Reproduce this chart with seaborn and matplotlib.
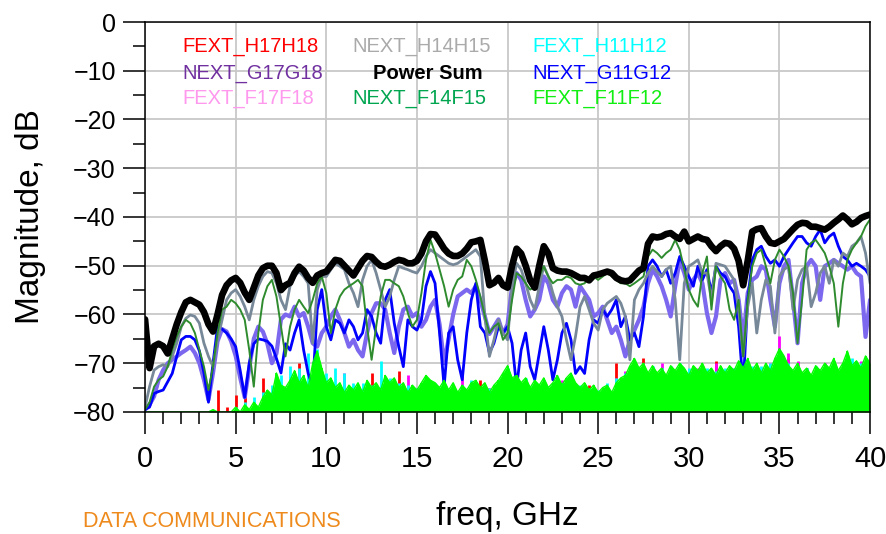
import numpy as np
import pandas as pd
import matplotlib
matplotlib.use("Agg")
import matplotlib.pyplot as plt
import seaborn as sns
from matplotlib.ticker import MultipleLocator

# frequency axis of the crosstalk traces (GHz), read every 0.25 GHz
freq = np.linspace(0, 40, 161)
# the far-end noise traces were read on a coarser 0.5 GHz step
freq_fext = np.linspace(0, 40, 81)

# Power Sum (dB)
power_sum = [
    -61, -71, -66.5, -66, -66.5, -68, -65, -62, -59.5, -57.5, -57, -57.5, -58, -59.5, -62, -63.5,
    -60, -56, -54, -53, -52.5, -53.5, -55.5, -57, -54.5, -52, -50.5, -50, -50, -51.5, -55, -54,
    -53.5, -51.5, -50.2, -51, -52.5, -53.5, -52, -51.5, -51.2, -50, -48.8, -49, -50, -51, -52, -50.5,
    -49, -48, -48.2, -49.2, -50, -50.2, -49.8, -49.2, -48.8, -49, -49.5, -49.5, -49, -47.5, -45, -43.5,
    -43.6, -45, -46.5, -47.5, -48, -48, -47.5, -46.5, -45.2, -45, -44.7, -49, -54, -53.5, -52.5, -54,
    -54.5, -50, -46.5, -47.5, -50, -53, -54.5, -50, -46, -47.5, -50.5, -51, -51.2, -51.2, -51.5, -52,
    -52.5, -52.5, -53, -52, -51.8, -51.5, -51.2, -51.5, -52.5, -53, -53.2, -53, -52, -51, -50.5, -45.5,
    -44, -44.2, -44, -43.5, -43.3, -44, -44.5, -43, -45, -44.5, -44, -44.5, -44.7, -46, -47, -46,
    -45.3, -45.5, -46.5, -49, -54, -49, -43, -42.5, -42.3, -44, -45.3, -45.5, -45, -44.5, -43.5, -42.5,
    -41.6, -41.2, -41.3, -42, -42, -42.3, -42.6, -42, -41.2, -40.5, -39.7, -40.5, -41.5, -41, -40.2, -39.8,
    -39.5,
]

# NEXT_H14H15 (dB)
next_h14h15 = [
    -79, -74.8, -71.4, -70.7, -70.3, -70.7, -68.6, -65.9, -62.5, -60.8, -60.1, -60.4, -61.8, -65.9, -68.6, -70.7,
    -65.2, -61.1, -57.0, -55.6, -54.9, -56.3, -58.4, -61.1, -57.0, -54.2, -52.2, -51.2, -51.5, -53.6, -57.0, -59.0,
    -54.2, -52.2, -51.2, -52.2, -53.6, -65.9, -54.9, -52.2, -52.2, -50.8, -49.5, -50.1, -50.8, -53.6, -55.6, -58.4,
    -52.9, -50.1, -48.8, -51.5, -54.9, -58.4, -56.3, -52.9, -50.1, -50.5, -50.8, -51.2, -51.5, -50.1, -48.1, -46.7,
    -47.4, -48.1, -48.8, -49.5, -49.8, -49.5, -48.8, -48.1, -47.4, -46.7, -48.1, -60.4, -68.6, -65.2, -61.1, -63.8,
    -65.2, -54.2, -49.5, -50.8, -53.6, -57.0, -59.0, -54.2, -50.1, -52.2, -55.6, -58.4, -60.4, -65.2, -69.3, -64.5,
    -58.4, -56.3, -59.0, -61.8, -63.2, -59.0, -57.7, -57.0, -56.3, -57.7, -60.4, -69.3, -57.0, -54.9, -53.6, -51.5,
    -50.1, -51.2, -52.2, -50.8, -50.1, -57.0, -69.3, -53.6, -50.1, -49.5, -48.8, -51.5, -51.5, -57.0, -49.5, -49.8,
    -50.1, -51.5, -52.9, -59.0, -68.6, -58.4, -53.6, -63.8, -57.0, -52.9, -54.2, -63.8, -52.2, -50.8, -50.1, -59.0,
    -52.9, -50.8, -50.1, -58.4, -55.6, -51.5, -50.1, -53.6, -48.8, -50.1, -47.4, -48.1, -46.0, -45.3, -44.0, -47.4,
    -53.6,
]

# NEXT_F14F15 (dB)
next_f14f15 = [
    -79.5, -78, -74.8, -73.4, -72.7, -70.7, -67.3, -64.5, -62.5, -61.1, -61.8, -63.8, -67.3, -70.7, -75.5, -70.7,
    -63.8, -59.0, -58.4, -57.0, -57.7, -59.0, -61.1, -67.3, -74.8, -63.8, -57.0, -54.2, -52.9, -56.3, -62.5, -68.6,
    -62.5, -59.0, -57.0, -58.4, -59.7, -57.0, -53.6, -52.2, -55.6, -63.8, -59.0, -56.3, -54.9, -54.2, -53.6, -52.9,
    -54.2, -62.5, -69.3, -62.5, -56.3, -52.9, -52.9, -53.6, -54.2, -56.3, -59.7, -62.5, -61.1, -55.6, -48.8, -44.7,
    -47.4, -50.8, -54.2, -58.4, -54.9, -52.9, -52.2, -48.8, -50.1, -52.9, -56.3, -60.4, -63.8, -62.5, -61.8, -65.2,
    -63.8, -57.0, -51.5, -52.2, -53.6, -54.9, -54.2, -52.2, -50.1, -52.2, -53.6, -52.9, -52.9, -52.2, -52.5, -53.6,
    -53.9, -53.6, -52.5, -52.2, -52.9, -52.2, -51.5, -52.2, -52.9, -53.6, -53.6, -54.2, -53.6, -52.9, -52.2, -48.1,
    -46.7, -47.4, -48.4, -47.4, -46.7, -44.7, -46.7, -50.8, -54.9, -57.0, -58.4, -51.5, -48.1, -59.0, -50.1, -52.2,
    -53.6, -59.0, -61.1, -57.0, -68.6, -57.0, -50.1, -47.4, -46.7, -50.1, -53.6, -48.8, -46.7, -48.1, -50.1, -55.6,
    -65.9, -57.0, -46.7, -45.3, -44.7, -46.0, -47.4, -50.1, -53.6, -62.5, -53.6, -48.8, -46.7, -45.3, -44.0, -41.9,
    -40.5,
]

# NEXT_G11G12 (dB)
next_g11g12 = [
    -79.5, -79, -76.2, -75.8, -75.5, -73.8, -72.1, -68.6, -65.2, -64.5, -64.5, -65.2, -67.5, -72, -78, -70,
    -62.5, -63, -63.8, -65, -66.6, -71.5, -77, -70, -66, -65, -65.2, -65.5, -66.5, -69, -72, -66,
    -67.3, -63.8, -61.1, -67.3, -72.1, -74.8, -59.0, -54.9, -62.5, -65.2, -61.1, -61.8, -63.8, -61.1, -62.5, -65.2,
    -63.8, -59.0, -60.4, -63.8, -65.9, -57.0, -54.9, -61.8, -66.6, -70.7, -61.1, -62.5, -63.2, -61.1, -54.2, -51.2,
    -53.6, -63.8, -74.8, -63.8, -62.5, -69.3, -73.4, -63.8, -57.0, -53.6, -62.5, -63.8, -67.9, -65.9, -62.5, -63.8,
    -62.5, -65.9, -74.8, -67.3, -63.8, -70.7, -73.4, -67.9, -62.5, -67.3, -73.4, -69.3, -63.8, -61.8, -65.2, -72.1,
    -70.7, -72.1, -65.2, -61.1, -61.8, -59.0, -60.4, -59.0, -57.0, -62.5, -60.4, -65.2, -63.8, -66.6, -60.4, -50.1,
    -48.8, -50.1, -52.2, -50.8, -53.6, -51.5, -48.1, -50.1, -52.2, -54.2, -50.1, -52.9, -50.8, -55.6, -50.1, -51.5,
    -52.2, -54.2, -55.6, -62.5, -74.8, -57.0, -48.8, -46.7, -46.0, -48.1, -49.5, -48.8, -50.1, -48.1, -46.7, -45.3,
    -44.0, -44.0, -45.3, -46.0, -44.0, -42.6, -45.3, -44.0, -43.3, -46.0, -48.1, -48.8, -50.1, -49.5, -50.1, -50.8,
    -52.2,
]

# NEXT_G17G18 (dB)
next_g17g18 = [
    -79.5, -78.5, -76.8, -73.4, -71.4, -70.0, -69.3, -68.6, -67.9, -67.3, -66.6, -67.9, -70.0, -73.4, -77.5, -72,
    -65.5, -63, -63.5, -65.5, -68.5, -73, -77, -71, -65, -62.5, -63.5, -66, -70, -68, -61, -60,
    -60.4, -58.4, -60.4, -59.7, -62.5, -65.9, -66.6, -63.8, -62.5, -60.4, -59.0, -61.1, -63.8, -66.6, -65.2, -67.3,
    -68.6, -63.8, -59.7, -57.7, -57.7, -59.0, -63.8, -67.9, -62.5, -59.0, -58.4, -60.4, -59.7, -62.5, -61.1, -58.4,
    -57.0, -62.0, -70.0, -65.0, -60.0, -56.3, -55.6, -54.9, -55.6, -54.2, -57.0, -60.4, -64.0, -62.5, -61.0, -64.0,
    -62.0, -54.2, -51.5, -52.9, -57.0, -60.4, -59.0, -57.0, -52.2, -53.6, -57.0, -58.4, -55.6, -54.2, -54.9, -58.4,
    -54.2, -55.6, -57.0, -60.4, -59.7, -58.4, -61.1, -63.8, -62.5, -65.2, -68.6, -65.2, -63.2, -61.1, -58.4, -53.6,
    -50.8, -52.2, -54.2, -57.0, -60.4, -54.2, -48.8, -51.5, -54.9, -52.9, -51.5, -53.6, -59.7, -63.8, -60.4, -52.9,
    -51.5, -53.6, -52.9, -57.0, -65.2, -55.6, -52.9, -52.2, -50.1, -50.8, -57.0, -62.5, -53.6, -50.1, -48.8, -57.0,
    -65.9, -53.6, -50.1, -48.8, -50.1, -57.0, -50.1, -49.5, -48.8, -49.5, -50.1, -50.8, -50.1, -51.5, -52.2, -64.6,
    -57.0,
]

# FEXT_F11F12 (dB), upper edge of the noise band
fext_f11f12 = [
    -80, -80, -80, -80, -80, -80, -80, -80, -80, -80, -80, -80, -80, -80, -80, -79.5,
    -80, -80, -80, -80, -79, -80, -78.5, -79.5, -78, -79, -77, -75.5, -76.5, -72, -74.5, -75,
    -73.5, -71.5, -74, -72.5, -75, -70, -67.5, -71, -74, -73, -75, -74, -76, -74.5, -75.5, -74,
    -76, -73.5, -75, -74, -75.5, -72.5, -74, -73, -75, -74, -76, -74.5, -75.5, -74, -72.5, -73.5,
    -74, -75, -73.5, -75.5, -74, -76, -74.5, -75.5, -74, -73.5, -75, -74, -76, -74.5, -73.5, -72,
    -70.5, -73, -72.5, -74, -73, -75, -73.5, -74.5, -73, -75, -74, -72.5, -74.5, -73, -72, -74,
    -75, -74, -75.5, -74.5, -76, -75, -74.5, -76, -74, -73, -72.5, -70.5, -69, -71, -70, -72,
    -70.5, -72, -71, -72.5, -70.5, -71.5, -70, -71, -72.5, -70.5, -71.5, -70, -72, -71, -72.5, -70.5,
    -72, -70.5, -71.5, -69.5, -71, -69, -71.5, -70, -72, -70, -71.5, -69, -67, -68.5, -70.5, -71.5,
    -70, -72, -71, -72.5, -70.5, -71.5, -70, -71, -69, -71.5, -70, -67.5, -70.5, -69.5, -71, -68.5,
    -70,
]

# FEXT_H11H12 (dB), 0.5 GHz step
fext_h11h12 = [
    -80, -80, -80, -80, -80, -80, -80, -80, -80, -80,
    -79, -78, -77, -76, -74.5, -72.5, -70.5, -71, -68, -67,
    -72, -71, -72, -74, -74, -74.5, -69.5, -73, -74, -74.5,
    -75, -73, -74, -74, -75, -74.5, -73.5, -75, -75, -73.5,
    -71, -73, -73, -74, -73.5, -74, -74, -72.5, -74.5, -75,
    -75.5, -74, -73, -72, -69.5, -70, -70.5, -71, -70.5, -70,
    -71, -71.5, -71, -71.5, -71, -71, -70, -70.5, -70.5, -70,
    -68.5, -70, -71, -71, -70.5, -70.5, -70, -70, -69, -70,
    -70.5,
]

# FEXT_H17H18 (dB), 0.5 GHz step
fext_h17h18 = [
    -80, -80, -80, -80, -80, -80, -80, -80, -75.5, -79,
    -76.5, -75.5, -78, -73, -77, -76, -74, -70, -74, -73,
    -75, -76, -75, -76, -75, -72, -75, -75, -71.5, -75,
    -76, -75, -76, -75, -76, -75, -74, -73.5, -75, -74,
    -74.5, -75, -75, -75, -74.5, -75, -75, -75, -75.5, -74.5,
    -76, -75, -70, -73, -72, -69, -72, -72, -72, -72,
    -73, -72, -72, -69.5, -72, -71.5, -72, -72, -72.5, -71,
    -70, -69, -71.5, -72, -72, -71, -69.5, -71.5, -71, -71.5,
    -72,
]

# FEXT_F17F18 (dB), 0.5 GHz step
fext_f17f18 = [
    -80, -80, -80, -80, -80, -80, -80, -80, -80, -80,
    -80, -80, -80, -80, -78, -77, -76, -75, -74, -73.5,
    -76, -75, -72, -75, -75.5, -75, -76, -74.5, -74, -72.5,
    -75, -75, -75.5, -75, -75, -72.5, -74, -75, -75, -75,
    -75, -76, -75, -75, -74, -75, -73.5, -75, -75, -75.5,
    -76, -75, -73, -71.5, -72, -71.5, -71, -70, -71.5, -72,
    -72, -71, -71.5, -70, -71.5, -71, -72, -71.5, -71, -70,
    -64.5, -68, -69.5, -71, -71.5, -70, -71, -71, -70.5, -69.5,
    -71,
]

legend_labels = [
    "FEXT_H17H18", "NEXT_G17G18", "FEXT_F17F18",
    "NEXT_H14H15", "Power Sum", "NEXT_F14F15",
    "FEXT_H11H12", "NEXT_G11G12", "FEXT_F11F12",
]
legend_colors = [
    "#FF0000", "#7030A0", "#FF99EE",
    "#AAAAAA", "#000000", "#00A550",
    "#00FFFF", "#0000FF", "#11EE11",
]

df = pd.DataFrame({
    "freq": freq,
    "power_sum": power_sum,
    "next_h14h15": next_h14h15,
    "next_f14f15": next_f14f15,
    "next_g11g12": next_g11g12,
    "next_g17g18": next_g17g18,
    "fext_f11f12": fext_f11f12,
})
df_fext = pd.DataFrame({
    "freq": freq_fext,
    "fext_h11h12": fext_h11h12,
    "fext_h17h18": fext_h17h18,
    "fext_f17f18": fext_f17f18,
})

sns.set_style("white")
plt.rcParams["font.family"] = ["Liberation Sans", "DejaVu Sans"]
for key in ["text.color", "axes.labelcolor", "xtick.color", "ytick.color"]:
    plt.rcParams[key] = "black"

fig = plt.figure(figsize=(8.86, 5.34), dpi=100)
ax = fig.add_axes([0.1637, 0.2285, 0.8183, 0.7303])

floor = -80

# far-end noise traces: thin spikes standing on the floor
for col, color in [("fext_h17h18", "#FF0000"), ("fext_f17f18", "#FF00FF"),
                   ("fext_h11h12", "#00FFFF")]:
    ax.vlines(df_fext["freq"], floor, df_fext[col], color=color, lw=2.0, zorder=2)

# near-end traces
sns.lineplot(data=df, x="freq", y="next_g17g18", color="#7B68EE", lw=3.0, ax=ax, zorder=3)
sns.lineplot(data=df, x="freq", y="next_g11g12", color="#0000FF", lw=2.0, ax=ax, zorder=3.1)
sns.lineplot(data=df, x="freq", y="next_h14h15", color="#778899", lw=2.0, ax=ax, zorder=3.2)
sns.lineplot(data=df, x="freq", y="next_f14f15", color="#2E8B2E", lw=1.4, ax=ax, zorder=3.3)

# FEXT_F11F12 band on top of the floor region
ax.fill_between(df["freq"], floor, df["fext_f11f12"], color="#00FF00", lw=0, zorder=4)
sns.lineplot(data=df, x="freq", y="fext_f11f12", color="#00FF00", lw=1.0, ax=ax, zorder=4)
ax.vlines(df["freq"], floor, df["fext_f11f12"], color="#00FF00", lw=1.2, zorder=4)

# power sum on top
sns.lineplot(data=df, x="freq", y="power_sum", color="black", lw=4.8, ax=ax, zorder=5)

ax.set_xlim(0, 40)
ax.set_ylim(-80, 0)
ax.xaxis.set_major_locator(MultipleLocator(5))
ax.xaxis.set_minor_locator(MultipleLocator(1))
ax.yaxis.set_major_locator(MultipleLocator(10))
ax.yaxis.set_minor_locator(MultipleLocator(5))
ax.grid(True, which="major", color="#C8C8C8", lw=1.3)
ax.set_axisbelow(True)
for s in ax.spines.values():
    s.set_color("black")
    s.set_linewidth(1.1)
    s.set_zorder(6)

ax.tick_params(axis="both", which="both", bottom=True, left=True, top=False, right=False)
ax.tick_params(axis="both", which="major", direction="out", length=16, width=1.1,
               color="black", pad=5)
ax.tick_params(axis="both", which="minor", direction="out", length=8.5, width=1.1,
               color="black")
ax.tick_params(axis="x", which="major", labelsize=21, pad=8)
ax.tick_params(axis="y", which="major", labelsize=18)

ax.set_xlabel("freq, GHz", fontsize=24)
ax.set_ylabel("Magnitude, dB", fontsize=24)
ax.xaxis.set_label_coords(0.5, -0.228)
ax.yaxis.set_label_coords(-0.1366, 0.5)

# label block in the upper left of the plot
col_x = [0.051, 0.2855, 0.534]
row_y = [0.936, 0.869, 0.803]
for i, (lab, c) in enumerate(zip(legend_labels, legend_colors)):
    x = col_x[i // 3]
    weight = "normal"
    if lab == "Power Sum":
        x = 0.3145
        weight = "bold"
    ax.text(x, row_y[i % 3], lab, color=c, fontsize=14.5, fontweight=weight,
            ha="left", va="center", transform=ax.transAxes, zorder=7)

fig.text(0.0937, 0.0225, "DATA COMMUNICATIONS", color="#EE8A1C", fontsize=15.5,
         ha="left", va="center")

fig.savefig("out.png", dpi=100)
